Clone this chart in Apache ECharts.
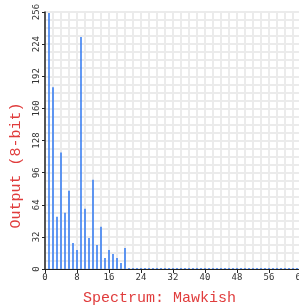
<!DOCTYPE html>
<html>
<head>
<meta charset="utf-8">
<script src="https://cdn.jsdelivr.net/npm/echarts@6/dist/echarts.min.js"></script>
<style>html,body{margin:0;padding:0;background:#fff}#chart{width:299px;height:307px}</style>
</head>
<body>
<div id="chart"></div>
<script>
// spectrum bins 1..20 (rest are zero out to 63)
const binIndex = [];
for (let i = 1; i < 64; i++) binIndex.push(i);
const binValues = [255, 181, 52, 116, 56, 78, 26, 19, 231, 60, 31, 89, 24, 42, 11, 19, 15, 11, 6, 21,
    0,0,0,0,0,0,0,0,0,0,0,0,0,0,0,0,0,0,0,0,0,0,0,0,0,0,0,0,0,0,0,0,0,0,0,0,0,0,0,0,0,0,0];
const xTitle = 'Spectrum: Mawkish';
const yTitle = 'Output (8-bit)';

const MONO = 'Liberation Mono';
const RED = '#e03c3c';
const GRIDLINE = {lineStyle: {color: '#ebebeb', width: 2}};

const chart = echarts.init(document.getElementById('chart'));
chart.setOption({
    animation: false,
    backgroundColor: '#ffffff',
    grid: {left: 45, top: 12, right: -2, bottom: 38, outerBoundsMode: 'none'},
    xAxis: {
        type: 'value', min: 0, max: 64, interval: 8,
        name: xTitle, nameLocation: 'middle', nameGap: 22,
        nameTextStyle: {color: RED, fontFamily: MONO, fontSize: 15, padding: [0, 27, 0, 0]},
        axisLine: {show: true, lineStyle: {color: '#222', width: 1}},
        axisTick: {show: true, length: 4, lineStyle: {color: '#222'}},
        axisLabel: {color: '#333', fontFamily: 'DejaVu Sans Mono', fontSize: 9, margin: 4},
        splitLine: {show: true, ...GRIDLINE},
        minorTick: {show: false, splitNumber: 4},
        minorSplitLine: {show: true, ...GRIDLINE}
    },
    yAxis: {
        type: 'value', min: 0, max: 256, interval: 32,
        name: yTitle, nameLocation: 'middle', nameGap: 21, nameRotate: 90,
        nameTextStyle: {color: RED, fontFamily: MONO, fontSize: 15, padding: [0, 50, 0, 0]},
        axisLine: {show: true, lineStyle: {color: '#222', width: 1.5}},
        axisTick: {show: true, length: 3, lineStyle: {color: '#222'}},
        axisLabel: {color: '#333', fontFamily: 'DejaVu Sans Mono', fontSize: 9, rotate: 90, margin: 4},
        splitLine: {show: true, ...GRIDLINE},
        minorTick: {show: false, splitNumber: 4},
        minorSplitLine: {show: true, ...GRIDLINE}
    },
    series: [{
        type: 'bar',
        data: binIndex.map((x, i) => [x, binValues[i]]),
        barWidth: 1.6,
        barMinHeight: 1,
        itemStyle: {color: '#3a7ff2'}
    }]
});
</script>
</body>
</html>
